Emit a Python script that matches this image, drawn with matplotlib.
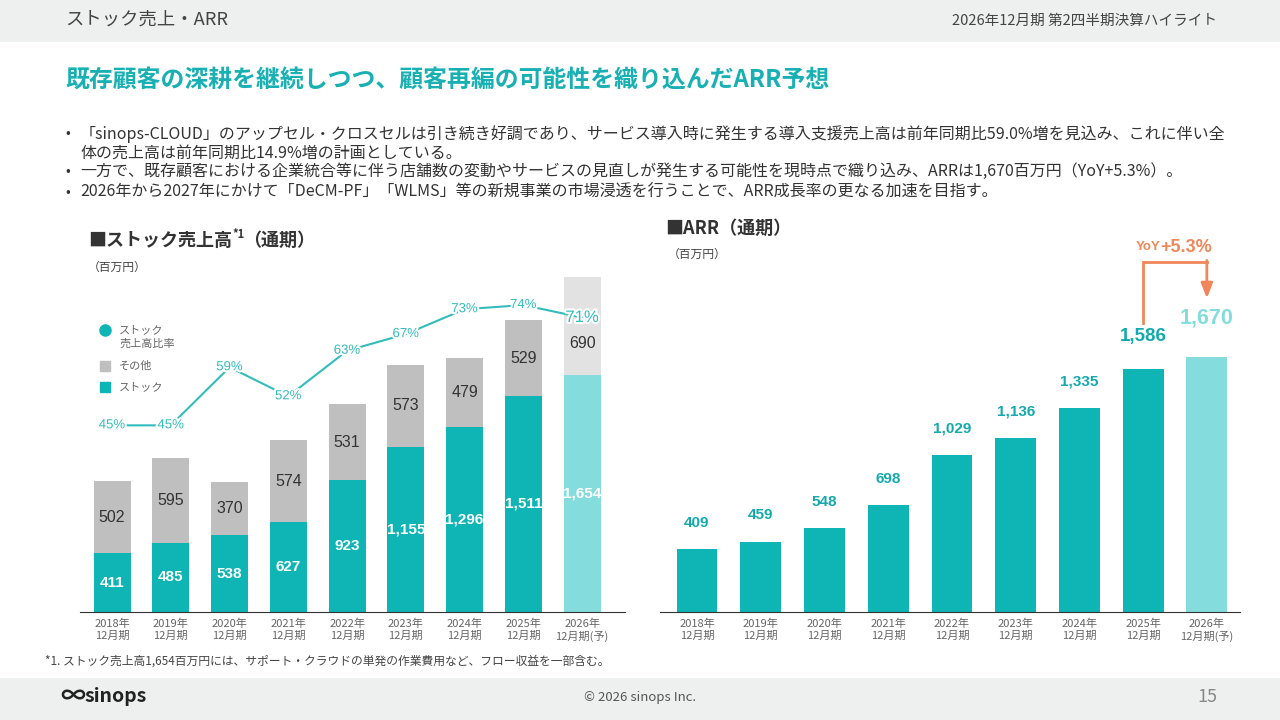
import matplotlib
matplotlib.use("Agg")
import matplotlib.pyplot as plt
import matplotlib.patheffects as pe
from matplotlib.patches import Rectangle
import numpy as np

plt.rcParams['font.family'] = ['Noto Sans CJK JP', 'DejaVu Sans']

# ---- data ----
years = ["2018年\n12月期", "2019年\n12月期", "2020年\n12月期", "2021年\n12月期",
         "2022年\n12月期", "2023年\n12月期", "2024年\n12月期", "2025年\n12月期",
         "2026年\n12月期(予)"]
stock = [411, 485, 538, 627, 923, 1155, 1296, 1511, 1654]
other = [502, 595, 370, 574, 531, 573, 479, 529, 690]
stock_ratio = [45, 45, 59, 52, 63, 67, 73, 74, 71]
arr = [409, 459, 548, 698, 1029, 1136, 1335, 1586, 1670]

bullets = [
    "「sinops-CLOUD」のアップセル・クロスセルは引き続き好調であり、サービス導入時に発生する導入支援売上高は前年同期比59.0%増を見込み、これに伴い全\n体の売上高は前年同期比14.9%増の計画としている。",
    "一方で、既存顧客における企業統合等に伴う店舗数の変動やサービスの見直しが発生する可能性を現時点で織り込み、ARRは1,670百万円（YoY+5.3%）。",
    "2026年から2027年にかけて「DeCM-PF」「WLMS」等の新規事業の市場浸透を行うことで、ARR成長率の更なる加速を目指す。",
]

TEAL = "#0fb5b5"
TEAL_LIGHT = "#84dcdc"
GRAY = "#bfbfbf"
GRAY_LIGHT = "#e2e2e2"
LINE = "#33bcbc"
ORANGE = "#f0875a"
NUM = ['Liberation Sans', 'DejaVu Sans']

fig = plt.figure(figsize=(12.8, 7.2), dpi=100)

# overlay in pixel coords for page decoration
bg = fig.add_axes([0, 0, 1, 1])
bg.set_xlim(0, 1280)
bg.set_ylim(720, 0)
bg.axis('off')
bg.add_patch(Rectangle((0, 0), 1280, 42, color="#eef0f0", lw=0))
bg.add_patch(Rectangle((0, 678), 1280, 42, color="#eef0f0", lw=0))
bg.text(65, 20, "ストック売上・ARR", fontsize=13.2, color="#444444", va='center')
bg.text(1217, 21, "2026年12月期 第2四半期決算ハイライト", fontsize=10.5, color="#444444",
        va='center', ha='right')
bg.text(65, 80, "既存顧客の深耕を継続しつつ、顧客再編の可能性を織り込んだARR予想",
        fontsize=17.2, color="#19b0b3", fontweight='bold', va='center')
by = [133, 171, 192]
for y, b in zip(by, bullets):
    bg.text(65, y, "•", fontsize=10, color="#333333", va='center')
    bg.text(80, y - 8, b, fontsize=11.5, color="#333333", va='top', linespacing=1.18)

bg.text(88, 240, "■ストック売上高", fontsize=13, fontweight='bold', color="#333333", va='center')
bg.text(232, 234, "*1", fontsize=8, fontweight='bold', color="#333333", va='center')
bg.text(243, 240, "（通期）", fontsize=13, fontweight='bold', color="#333333", va='center')
bg.text(88, 267, "（百万円）", fontsize=8.5, color="#444444", va='center')
bg.text(665, 228, "■ARR（通期）", fontsize=13, fontweight='bold', color="#333333", va='center')
bg.text(668, 254, "（百万円）", fontsize=8.5, color="#444444", va='center')

# legend
bg.plot([105], [330], 'o', color=TEAL, ms=8)
bg.text(119, 337, "ストック\n売上高比率", fontsize=8, color="#666666", va='center', linespacing=1.3)
bg.plot([105], [366], 's', color=GRAY, ms=7.5)
bg.text(119, 366, "その他", fontsize=8, color="#666666", va='center')
bg.plot([105], [387], 's', color=TEAL, ms=7.5)
bg.text(119, 387, "ストック", fontsize=8, color="#666666", va='center')

bg.text(45, 661, "*1. ストック売上高1,654百万円には、サポート・クラウドの単発の作業費用など、フロー収益を一部含む。",
        fontsize=8.5, color="#444444", va='center')
bg.text(60, 697, "∞", fontsize=18, color="#222222", va='center', fontweight='bold')
bg.text(84, 697, "sinops", fontsize=14, color="#222222", va='center', fontweight='bold')
bg.text(640, 697, "© 2026 sinops Inc.", fontsize=9.5, color="#555555", va='center', ha='center')
bg.text(1217, 697, "15", fontsize=13, color="#888888", va='center', ha='right')

x = np.arange(len(years))
forecast = len(years) - 1

# ---- left chart: stock sales ----
ax = fig.add_axes([80 / 1280, 1 - 612 / 720, 545 / 1280, 421 / 720])
ax.set_facecolor('none')
s_cols = [TEAL] * forecast + [TEAL_LIGHT]
o_cols = [GRAY] * forecast + [GRAY_LIGHT]
ax.bar(x, stock, width=0.63, color=s_cols, zorder=2)
ax.bar(x, other, width=0.63, bottom=stock, color=o_cols, zorder=2)
ax.set_xlim(-0.545, 8.73)
ax.set_ylim(0, 2944)
for i in x:
    ax.text(i, stock[i] / 2, f"{stock[i]:,}", ha='center', va='center', color='white',
            fontsize=11, fontweight='bold', family=NUM, zorder=3)
    oy = stock[i] + other[i] / 2
    if i == forecast:
        oy -= 120
    ax.text(i, oy, f"{other[i]:,}", ha='center', va='center', color="#333333",
            fontsize=11.5, family=NUM, zorder=3)
ax.set_xticks(x)
ax.set_xticklabels(years, fontsize=8, color="#666666", linespacing=1.2)
ax.tick_params(axis='x', length=0, pad=5)
ax.set_yticks([])
for s in ['top', 'right', 'left']:
    ax.spines[s].set_visible(False)
ax.spines['bottom'].set_color('#333333')
ax.spines['bottom'].set_linewidth(0.8)

ax2 = ax.twinx()
ax2.set_ylim(0, 101.5)
ax2.plot(x, stock_ratio, color=LINE, lw=1.5, zorder=4)
for i in x:
    fs = 12 if i == forecast else 9.5
    ax2.text(i, stock_ratio[i], f"{stock_ratio[i]}%", ha='center', va='center', color=LINE,
             fontsize=fs, family=NUM, zorder=5,
             path_effects=[pe.withStroke(linewidth=3, foreground='white')])
ax2.axis('off')

# ---- right chart: ARR ----
ar = fig.add_axes([660 / 1280, 1 - 612 / 720, 580 / 1280, 421 / 720])
ar.set_facecolor('none')
a_cols = [TEAL] * forecast + [TEAL_LIGHT]
ar.bar(x, arr, width=0.64, color=a_cols, zorder=2)
ar.set_xlim(-0.58, 8.52)
ar.set_ylim(0, 2752)
for i in x:
    if i == forecast:
        fs, off, col = 15.5, 28, TEAL_LIGHT
    elif i == forecast - 1:
        fs, off, col = 13.5, 24, "#14a9ad"
    else:
        fs, off, col = 11, 19, "#14a9ad"
    ar.annotate(f"{arr[i]:,}", (i, arr[i]), xytext=(0, off), textcoords='offset points',
                ha='center', va='center', color=col, fontsize=fs, fontweight='bold', family=NUM)
ar.set_xticks(x)
ar.set_xticklabels(years, fontsize=8, color="#666666", linespacing=1.2)
ar.tick_params(axis='x', length=0, pad=5)
ar.set_yticks([])
for s in ['top', 'right', 'left']:
    ar.spines[s].set_visible(False)
ar.spines['bottom'].set_color('#333333')
ar.spines['bottom'].set_linewidth(0.8)

# YoY bracket
yoy = (arr[-1] / arr[-2] - 1) * 100
y_low = arr[-2] + 300
y_top = arr[-1] + 620
ar.plot([forecast - 1, forecast - 1, forecast], [y_low, y_top, y_top], color=ORANGE, lw=2,
        solid_joinstyle='miter', clip_on=False)
ar.annotate("", xy=(forecast, arr[-1] + 380), xytext=(forecast, y_top + 8),
            arrowprops=dict(arrowstyle='-|>,head_width=0.35,head_length=0.9', color=ORANGE, lw=2,
                            shrinkA=0, shrinkB=0), annotation_clip=False)
ar.text(forecast - 0.73, y_top + 95, "YoY", ha='right', va='center', color=ORANGE, fontsize=9.5,
        fontweight='bold', family=NUM)
ar.text(forecast - 0.73, y_top + 95, f"+{yoy:.1f}%", ha='left', va='center', color=ORANGE,
        fontsize=13, fontweight='bold', family=NUM)

fig.savefig("out.png", dpi=100)
